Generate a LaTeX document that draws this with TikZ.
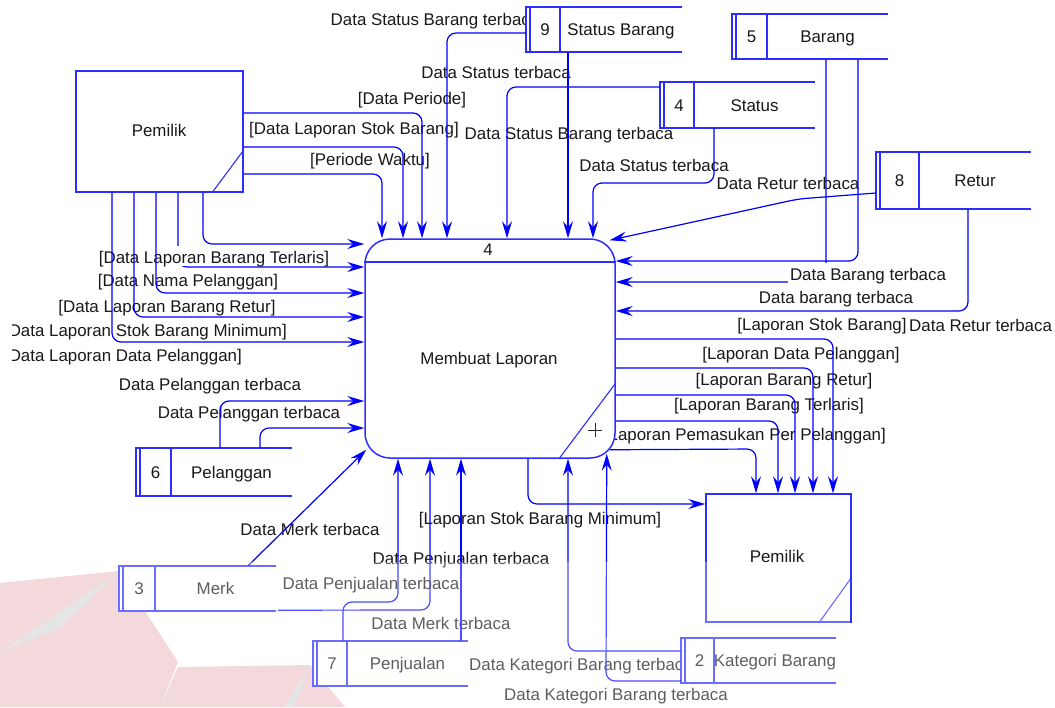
\documentclass[tikz,border=0pt]{standalone}
\usepackage{fontspec}
\setmainfont{Liberation Sans}
\usetikzlibrary{arrows.meta,calc}

\definecolor{flowblue}{RGB}{0,0,255}
\definecolor{boxblue}{RGB}{45,45,255}
\definecolor{wmpink}{RGB}{238,200,205}
\definecolor{wmgray}{RGB}{218,218,218}

\tikzset{
  flow/.style={draw=flowblue, line width=1.2pt, rounded corners=9pt,
    -{Stealth[length=17pt,width=10pt,inset=6pt]}},
  boxline/.style={draw=boxblue, line width=1.5pt},
  lbl/.style={font=\fontsize{16.9}{20}\selectfont, text=black!90, inner sep=0pt,
    text height=12.1pt, text depth=0pt},
  opaquelbl/.style={lbl, fill=white, anchor=base, text height=17pt, text depth=2.8pt,
    inner xsep=2pt},
  entity/.style={boxline, fill=white, inner sep=0pt},
  procbox/.style={boxline, fill=white, rounded corners=25pt, inner sep=0pt},
}

% data store: name, left x, top y, right x, bottom y, divider x, number, title
\newcommand{\dstore}[8]{%
  \node[inner sep=0pt, fill=white, minimum width={(#4-#2)*1pt},
        minimum height={(#5-#3)*1pt}] (#1) at ({(#2+#4)/2},{(#3+#5)/2}) {};
  \draw[boxline] (#1.north east) -- (#1.north west) -- (#1.south west) -- (#1.south east);
  \draw[boxline] ($(#1.north west)+(4,0)$) -- ($(#1.south west)+(4,0)$);
  \draw[boxline] (#6,0 |- #1.north) -- (#6,0 |- #1.south);
  \node[lbl] (#1-num) at ({(#2+4+#6)/2},{(#3+#5)/2}) {#7};
  \node[lbl] (#1-name) at ({(#6+#4)/2},{(#3+#5)/2}) {#8};
}

\begin{document}
\begin{tikzpicture}[x=1pt,y=-1pt]
\useasboundingbox (0,0) rectangle (1055,707);

% logo in the background, lower left
\fill[wmpink] (0,583) -- (119,571) -- (178,662) -- (160,707) -- (0,707) -- cycle;
\fill[wmgray] (0,652) -- (119,572) -- (60,628) -- cycle;
\fill[wmpink] (160,707) -- (178,667) -- (310,665) -- (345,707) -- cycle;
\fill[wmgray] (310,665) -- (284,707) -- (294,707) -- cycle;

% flow labels
\node[lbl] (l1)  at (435,19)  {Data Status Barang terbaca};
\node[lbl] (l2)  at (496,72)  {Data Status terbaca};
\node[lbl] (l3)  at (412,98)  {[Data Periode]};
\node[lbl] (l4)  at (354,128) {[Data Laporan Stok Barang]};
\node[lbl] (l5)  at (569,133) {Data Status Barang terbaca};
\node[lbl] (l6)  at (370,159) {[Periode Waktu]};
\node[lbl] (l7)  at (654,165) {Data Status terbaca};
\node[lbl] (l8)  at (788,183) {Data Retur terbaca};
\node[lbl] (l10) at (188,280) {[Data Nama Pelanggan]};
\node[lbl] (l11) at (167,306) {[Data Laporan Barang Retur]};
\begin{scope}
  \clip (12,300) rectangle (320,370);
  \node[lbl, anchor=east] (l12) at (287,330) {[Data Laporan Stok Barang Minimum]};
  \node[lbl, anchor=east] (l13) at (242,355) {[Data Laporan Data Pelanggan]};
\end{scope}
\node[lbl] (l14) at (210,384) {Data Pelanggan terbaca};
\node[lbl] (l15) at (249,412) {Data Pelanggan terbaca};
\node[lbl] (l17) at (836,297) {Data barang terbaca};
\node[lbl] (l18) at (822,324) {[Laporan Stok Barang]};
\node[lbl, anchor=west] (l19) at (909,325) {Data Retur terbaca};
\node[lbl] (l20) at (801,353) {[Laporan Data Pelanggan]};
\node[lbl] (l21) at (784,379) {[Laporan Barang Retur]};
\node[lbl] (l22) at (769,404) {[Laporan Barang Terlaris]};
\node[lbl, anchor=east] (l23) at (886,434) {[Laporan Pemasukan Per Pelanggan]};
\node[lbl] (l24) at (540,518) {[Laporan Stok Barang Minimum]};
\node[lbl] (l25) at (310,529) {Data Merk terbaca};
\node[lbl] (l26) at (461,558) {Data Penjualan terbaca};
\node[lbl] (l27) at (371,583) {Data Penjualan terbaca};
\node[lbl] (l28) at (441,623) {Data Merk terbaca};
\node[lbl] (l29) at (581,664) {Data Kategori Barang terbaca};
\node[lbl] (l30) at (616,694) {Data Kategori Barang terbaca};

% external entities
\node[entity, minimum width=167pt, minimum height=121pt] (p1) at (159.5,131.5) {};
\draw[boxline, line width=1.1pt] (p1.east |- 0,150) -- (212,0 |- p1.south);
\node[lbl] (p1-name) at (159,130) {Pemilik};

\node[entity, minimum width=145pt, minimum height=128pt] (p2) at (778.5,558) {};
\draw[boxline, line width=1.1pt] (p2.east |- 0,577) -- (819,0 |- p2.south);
\node[lbl] (p2-name) at (777,556) {Pemilik};

% process
\node[procbox, minimum width=250pt, minimum height=219pt] (proc) at (490,348.5) {};
\draw[boxline] (proc.west |- 0,262) -- (proc.east |- 0,262);
\draw[boxline, line width=1.1pt] (proc.east |- 0,383) -- (559,0 |- proc.south);
\node[lbl] (proc-num) at (488,249) {4};
\node[lbl] (proc-name) at (489,358) {Membuat Laporan};
\draw[black!85, line width=0.9pt] (588,430) -- (602,430) (595,423) -- (595,437);

% data stores
\dstore{s9}{526}{7}{682}{52}{560}{9}{Status Barang}
\dstore{s4}{660}{82}{815}{128}{694}{4}{Status}
\dstore{s5}{732}{14}{888}{59}{767}{5}{Barang}
\dstore{s8}{876}{152}{1031}{209}{919}{8}{Retur}
\dstore{s6}{136}{448}{292}{496}{171}{6}{Pelanggan}
\dstore{s3}{119}{566}{276}{611}{155}{3}{Merk}
\dstore{s7}{313}{641}{468}{686}{347}{7}{Penjualan}
\dstore{s2}{681}{638}{836}{683}{714}{2}{Kategori Barang}

% flows from the owner into the process (top)
\draw[flow] (p1.east |- 0,113) -- (422,113) -- (422,0 |- proc.north);
\draw[flow] (p1.east |- 0,147) -- (403,147) -- (403,0 |- proc.north);
\draw[flow] (p1.east |- 0,174) -- (382,174) -- (382,0 |- proc.north);

% flows from the owner into the process (left)
\draw[flow] (203,0 |- p1.south) -- (203,244) -- (proc.west |- 0,244);
\draw[flow] (178,0 |- p1.south) -- (178,267) -- (proc.west |- 0,267);
\node[opaquelbl] (l9) at (214,263.05) {[Data Laporan Barang Terlaris]};
\draw[flow] (156,0 |- p1.south) -- (156,293) -- (proc.west |- 0,293);
\draw[flow] (134,0 |- p1.south) -- (134,317) -- (proc.west |- 0,317);
\draw[flow] (112,0 |- p1.south) -- (112,342) -- (proc.west |- 0,342);

% stores above the process
\draw[flow] (s9.west |- 0,33) -- (447,33) -- (447,0 |- proc.north);
\draw[flow] (568,0 |- s9.south) -- (568,0 |- proc.north);
\draw[flow] (s4.west |- 0,87) -- (507,87) -- (507,0 |- proc.north);
\draw[flow] (714,0 |- s4.south) -- (714,183) -- (593,183) -- (593,0 |- proc.north);
\draw[flow] (s8.west |- 0,193) -- (798,199) -- ($(proc.north east)+(-6,2)$);

% stores on the right
\draw[flow] (858,0 |- s5.south) -- (858,261) -- (proc.east |- 0,261);
\draw[flow] (826,0 |- s5.south) -- (826,282) -- (proc.east |- 0,282);
\draw[flow] (968,0 |- s8.south) -- (968,311) -- (proc.east |- 0,311);
\node[opaquelbl] (l16) at (868,280.05) {Data Barang terbaca};

% reports to the owner
\draw[flow] (proc.east |- 0,339) -- (833,339) -- (833,0 |- p2.north);
\draw[flow] (proc.east |- 0,368) -- (813,368) -- (813,0 |- p2.north);
\draw[flow] (proc.east |- 0,395) -- (795,395) -- (795,0 |- p2.north);
\draw[flow] (proc.east |- 0,421) -- (778,421) -- (778,0 |- p2.north);
\draw[flow] ($(proc.south east)+(-6,-9)$) -- (756,449) -- (756,0 |- p2.north);
\draw[flow] (528,0 |- proc.south) -- (528,504) -- (p2.west |- 0,504);

% stores below the process
\draw[flow] (s2.west |- 0,651) -- (568,651) -- (568,0 |- proc.south);
\draw[flow] (s2.west |- 0,681) -- (606,681) -- ($(proc.south east)+(-9,-5)$);
\draw[flow] (343,0 |- s7.north) -- (343,602) -- (398,602) -- (398,0 |- proc.south);
\draw[flow] ($(s3.south east)+(2,-1)$) -- (430,610) -- (430,0 |- proc.south);
\draw[flow] (461,0 |- s7.north) -- (461,0 |- proc.south);
\draw[flow] (248,0 |- s3.north) -- ($(proc.south west)+(2,-9)$);

% customer store
\draw[flow] (220,0 |- s6.north) -- (220,401) -- (proc.west |- 0,401);
\draw[flow] (260,0 |- s6.north) -- (260,428) -- (proc.west |- 0,428);

% translucent veil of the logo over the lower part
\fill[white, opacity=0.3] (0,562) rectangle (850,707);
\end{tikzpicture}
\end{document}
